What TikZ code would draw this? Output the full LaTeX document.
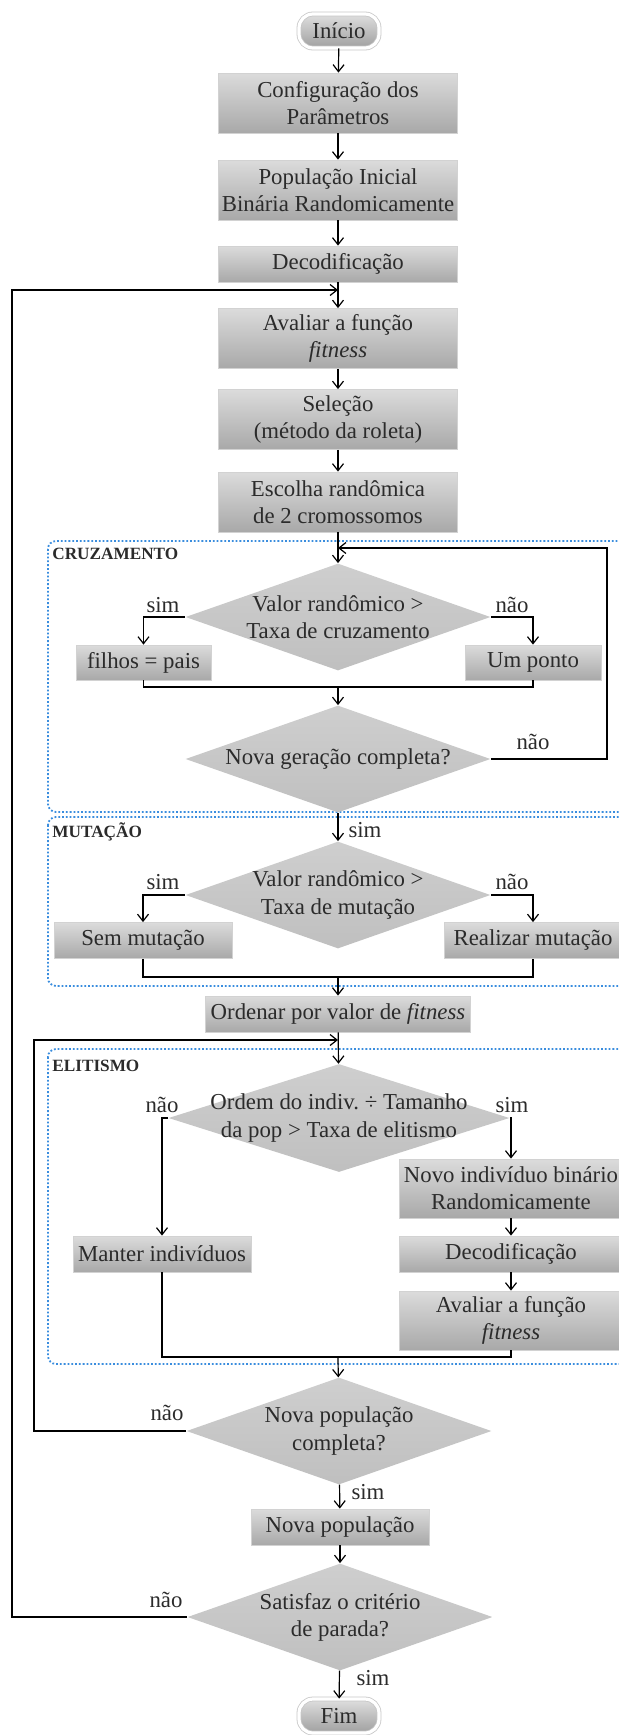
\documentclass[tikz,border=0pt]{standalone}
\usepackage{fontspec}
\setmainfont{Liberation Serif}
\usepackage{tikz}
\usetikzlibrary{positioning}
\usetikzlibrary{arrows.meta}
\usetikzlibrary{shapes.geometric}
\usepackage{xcolor}
\definecolor{txtgray}{HTML}{2B2B2B}
\definecolor{regionblue}{HTML}{3A8DDE}

\begin{document}
\begin{tikzpicture}[x=0.5pt, y=-0.5pt,
    >={Straight Barb[length=3.5pt,width=5.5pt]},
    font=\fontsize{11.4}{13.6}\selectfont,
    line/.style={line width=0.6pt},
    proc/.style={rectangle, draw=gray!35, line width=0.4pt, top color=gray!28, bottom color=gray!68, text=txtgray, align=center, inner sep=1pt},
    bigbox/.style={proc, minimum width=119.5pt, minimum height=30pt},
    smallbox/.style={proc, minimum width=119.5pt, minimum height=18pt},
    sidebox/.style={proc, minimum width=89pt, minimum height=18pt},
    widebox/.style={proc, minimum width=112pt, minimum height=18pt},
    decision/.style={diamond, top color=gray!38, bottom color=gray!50, text=txtgray, align=center, inner sep=-6pt, aspect=2.85, minimum width=152.5pt, minimum height=53.5pt},
    terminal/.style={rectangle, rounded corners=7pt, draw=gray!45, line width=0.4pt, double=white, double distance=1.6pt, top color=gray!25, bottom color=gray!75, text=txtgray, minimum width=40pt, minimum height=17pt, inner sep=1pt},
    region/.style={draw=regionblue, densely dotted, line width=0.9pt, rounded corners=4pt},
    tag/.style={font=\fontsize{8.6}{10}\selectfont\bfseries, text=txtgray, anchor=west, inner sep=0pt},
    answer/.style={text=txtgray, inner sep=0pt}]
    \useasboundingbox (0,0) rectangle (619,1735);

    % Dotted regions
    \draw[region] (48,541) rectangle (660,812);
    \draw[region] (48,817) rectangle (660,986);
    \draw[region] (48,1049) rectangle (660,1364);
    \node (tcruz) [tag] at (52,554) {CRUZAMENTO};
    \node (tmut) [tag] at (52,832) {MUTAÇÃO};
    \node (telit) [tag] at (52,1066) {ELITISMO};

    % Start and set-up
    \node (start) [terminal] at (339,31) {Início};
    \node (conf) [bigbox] at (338,103) {Configuração dos\\Parâmetros};
    \node (pop) [bigbox] at (338,190) {População Inicial\\Binária Randomicamente};
    \node (dec1) [smallbox] at (338,264) {Decodificação};
    \node (fit1) [bigbox] at (338,338.5) {Avaliar a função\\\textit{fitness}};
    \node (sel) [bigbox] at (338,419.5) {Seleção\\(método da roleta)};
    \node (esc) [bigbox] at (338,502) {Escolha randômica\\de 2 cromossomos};
    \coordinate (j5) at (338,290);
    \coordinate (j0) at (338,548);
    \draw[->, line] (start) -- (conf);
    \draw[->, line] (conf) -- (pop);
    \draw[->, line] (pop) -- (dec1);
    \draw[->, line] (dec1) -- (fit1);
    \draw[->, line] (fit1) -- (sel);
    \draw[->, line] (sel) -- (esc);

    % Crossover
    \node (d1) [decision] at (338,617) {Valor randômico >\\Taxa de cruzamento};
    \node (ch1) [proc, minimum width=67.5pt, minimum height=17.5pt] at (143.5,662.5) {filhos = pais};
    \node (ch2) [proc, minimum width=68pt, minimum height=17.5pt] at (533,662.5) {Um ponto};
    \node (d2) [decision] at (338,759) {Nova geração completa?};
    \coordinate (j1) at (338,687);
    \coordinate (back1) at (607,548);
    \draw[->, line] (esc) -- (d1);
    \draw[->, line] (d1.west) -| (ch1.north);
    \draw[->, line] (d1.east) -| (ch2.north);
    \draw[line] (ch1.south) |- (j1) -| (ch2.south);
    \draw[->, line] (j1) -- (d2);
    \draw[->, line] (d2.east) -| (back1) -- (j0);
    \node (l1) [answer] at (163,605) {sim};
    \node (l2) [answer] at (512,605) {não};
    \node (l3) [answer] at (533,742) {não};

    % Mutation
    \node (d3) [decision] at (338,895) {Valor randômico >\\Taxa de mutação};
    \node (mu1) [sidebox] at (143,940.5) {Sem mutação};
    \node (mu2) [sidebox] at (533,940.5) {Realizar mutação};
    \coordinate (j2) at (338,977);
    \draw[->, line] (d2) -- (d3);
    \draw[->, line] (d3.west) -| (mu1.north);
    \draw[->, line] (d3.east) -| (mu2.north);
    \draw[line] (mu1.south) |- (j2) -| (mu2.south);
    \node (l4) [answer] at (365,830) {sim};
    \node (l5) [answer] at (163,882) {sim};
    \node (l6) [answer] at (512,882) {não};

    % Sorting
    \node (ord) [proc, minimum width=132.5pt, minimum height=18pt] at (338,1014) {Ordenar por valor de \textit{fitness}};
    \draw[->, line] (j2) -- (ord);

    % Elitism
    \node (d4) [decision, aspect=3.16, minimum width=170.5pt, minimum height=54pt] at (339,1118) {Ordem do indiv.\ ÷ Tamanho\\da pop > Taxa de elitismo};
    \node (el1) [sidebox] at (162,1254) {Manter indivíduos};
    \node (el2) [widebox, minimum height=29.5pt] at (511,1188.5) {Novo indivíduo binário\\Randomicamente};
    \node (el3) [widebox] at (511,1254) {Decodificação};
    \node (el4) [widebox, minimum height=29.5pt] at (511,1320.5) {Avaliar a função\\\textit{fitness}};
    \coordinate (j3) at (338,1040);
    \coordinate (j4) at (338,1357);
    \draw[->, line] (ord) -- (d4);
    \draw[->, line] (d4.west) -| (el1.north);
    \draw[->, line] (d4.east) -| (el2.north);
    \draw[->, line] (el2) -- (el3);
    \draw[->, line] (el3) -- (el4);
    \draw[line] (el1.south) |- (j4) -| (el4.south);
    \node (l7) [answer] at (162,1105) {não};
    \node (l8) [answer] at (512,1105) {sim};

    % New population and stop test
    \node (d5) [decision] at (339,1431) {Nova população\\completa?};
    \node (newpop) [sidebox] at (340,1527) {Nova população};
    \node (d6) [decision] at (340,1617) {Satisfaz o critério\\de parada?};
    \node (fim) [terminal] at (339,1716) {Fim};
    \coordinate (back2) at (34,1040);
    \coordinate (back3) at (12,290);
    \draw[->, line] (j4) -- (d5);
    \draw[->, line] (d5.west) -| (back2) -- (j3);
    \draw[->, line] (d5) -- (newpop);
    \draw[->, line] (newpop) -- (d6);
    \draw[->, line] (d6.west) -| (back3) -- (j5);
    \draw[->, line] (d6) -- (fim);
    \node (l9) [answer] at (167,1413) {não};
    \node (l10) [answer] at (368,1492) {sim};
    \node (l11) [answer] at (166,1600) {não};
    \node (l12) [answer] at (373,1678) {sim};
\end{tikzpicture}
\end{document}
